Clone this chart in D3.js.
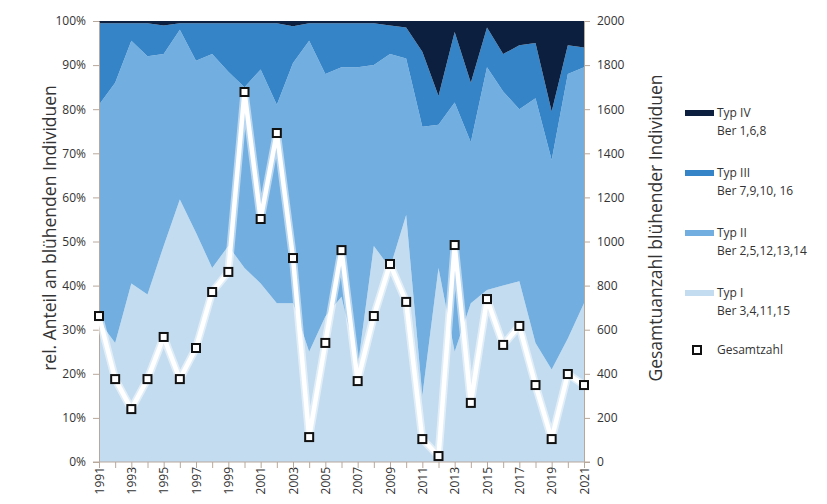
<!DOCTYPE html>
<html><head><meta charset="utf-8">
<script src="https://cdn.jsdelivr.net/npm/d3@7"></script>
<style>
body{margin:0;background:#fff;}
svg{display:block;font-family:"Open Sans",sans-serif;}
</style></head>
<body><svg id="c" width="827" height="504"></svg>
<script>
const years = d3.range(1991, 2022);
// shares in % per type (cumulative tops)
const typI   = [32,27,40.5,38,49,59.5,52,44,49,44,40.5,36,36,25,33,37.5,21.5,49,44,56,15,44,25,36,39,40,41,27,21,28,36];
const typIITop = [81,86,95.5,92,92.5,98,91,92.5,88.5,85,89,81,90.5,95.5,88,89.5,89.5,90,92.5,91.5,76,76.5,81.5,72.5,89.5,84,80,82.5,68.5,88,89.5];
const typIIITop = [99.5,99.5,99.5,99.5,99,99.5,99.5,99.5,99.5,99.5,99.5,99.5,98.8,99.5,99.5,99.5,99.5,99.5,99,98.5,93,83,97.5,86,98.5,92.5,94.5,95,79.5,94.5,94];
const typII  = typIITop.map((v,i)=>+(v-typI[i]).toFixed(1));
const typIII = typIIITop.map((v,i)=>+(v-typIITop[i]).toFixed(1));
const typIV  = typIIITop.map(v=>+(100-v).toFixed(1));
const gesamt = [662,376,240,376,567,376,517,771,862,1678,1102,1492,925,113,540,961,367,662,898,726,104,27,984,268,739,531,617,349,104,399,349];
const leftTicks = [0,10,20,30,40,50,60,70,80,90,100];
const rightTicks = [0,200,400,600,800,1000,1200,1400,1600,1800,2000];
const seriesNames = ["Typ I","Typ II","Typ III","Typ IV"];
const seriesSub = ["Ber 3,4,11,15","Ber 2,5,12,13,14","Ber 7,9,10, 16","Ber 1,6,8"];
const colors = ["#c3dcf0","#72afe0","#3584c8","#0c1f3e"];

const rows = years.map((y,i)=>({year:y,"Typ I":typI[i],"Typ II":typII[i],"Typ III":typIII[i],"Typ IV":typIV[i]}));
const svg = d3.select("#c");
const m = {l:99, r:584, t:21, b:462};
const x = d3.scaleLinear().domain([1991,2021]).range([m.l,m.r]);
const yL = d3.scaleLinear().domain([0,100]).range([m.b,m.t]);
const yR = d3.scaleLinear().domain([0,2000]).range([m.b,m.t]);

const stack = d3.stack().keys(seriesNames)(rows);
const area = d3.area().x(d=>x(d.data.year)).y0(d=>yL(d[0])).y1(d=>yL(d[1]));
svg.append("g").selectAll("path").data(stack).join("path")
  .attr("d",area).attr("fill",(d,i)=>colors[i]);

const axisColor = "#b8a89c";
const gl = svg.append("g").attr("transform",`translate(${m.l},0)`)
  .call(d3.axisLeft(yL).tickValues(leftTicks).tickFormat(d=>d+"%").tickSize(6).tickSizeOuter(0));
const gr = svg.append("g").attr("transform",`translate(${m.r},0)`)
  .call(d3.axisRight(yR).tickValues(rightTicks).tickFormat(d3.format("d")).tickSize(6).tickSizeOuter(0));
const gb = svg.append("g").attr("transform",`translate(0,${m.b})`)
  .call(d3.axisBottom(x).tickValues(years).tickFormat(d=>(d%2===1)?d:"").tickSize(6).tickSizeOuter(0));
[gl,gr,gb].forEach(g=>{
  g.selectAll(".domain").attr("stroke",axisColor);
  g.selectAll(".tick line").attr("stroke",axisColor);
  g.selectAll("text").attr("fill","#333").style("font-size","12px").style("font-family","'Open Sans',sans-serif");
});
gl.selectAll("text").attr("x",-13);
gr.selectAll("text").attr("x",13);
gb.selectAll("text").attr("transform","rotate(-90)").attr("text-anchor","end")
  .attr("x",-5).attr("y",0).attr("dy","0.35em").attr("dx",0);
gb.select(".domain").attr("d",`M${m.l-6},0H${m.r+6}`);

const line = d3.line().x((d,i)=>x(years[i])).y(d=>yR(d));
svg.append("path").datum(gesamt).attr("d",line).attr("fill","none")
  .attr("stroke","#ffffff").attr("stroke-opacity",0.5).attr("stroke-width",8).attr("stroke-linejoin","round");
svg.append("path").datum(gesamt).attr("d",line).attr("fill","none")
  .attr("stroke","#ffffff").attr("stroke-width",4.5).attr("stroke-linejoin","round");
svg.append("g").selectAll("rect").data(gesamt).join("rect")
  .attr("x",(d,i)=>x(years[i])-4).attr("y",d=>yR(d)-4)
  .attr("width",8).attr("height",8).attr("fill","#fff").attr("stroke","#111").attr("stroke-width",2);

svg.append("text").attr("transform",`translate(56,228) rotate(-90)`).attr("text-anchor","middle")
  .style("font-size","17.5px").attr("fill","#333").text("rel. Anteil an blühenden Individuen");
svg.append("text").attr("transform",`translate(662,228) rotate(-90)`).attr("text-anchor","middle")
  .style("font-size","17.5px").attr("fill","#333").text("Gesamtuanzahl blühender Individuen");

const lg = svg.append("g");
const legY = [293,233,173,113];
seriesNames.forEach((n,i)=>{
  lg.append("rect").attr("x",685).attr("y",legY[i]-3).attr("width",29).attr("height",6).attr("fill",colors[i]);
  lg.append("text").attr("x",717).attr("y",legY[i]).attr("dy","0.35em").style("font-size","12px").attr("fill","#333").text(n);
  lg.append("text").attr("x",717).attr("y",legY[i]+18).attr("dy","0.35em").style("font-size","12px").attr("fill","#333").text(seriesSub[i]);
});
lg.append("rect").attr("x",693).attr("y",346).attr("width",8).attr("height",8).attr("fill","#fff").attr("stroke","#111").attr("stroke-width",2);
lg.append("text").attr("x",717).attr("y",350).attr("dy","0.35em").style("font-size","12px").attr("fill","#333").text("Gesamtzahl");
</script></body></html>
